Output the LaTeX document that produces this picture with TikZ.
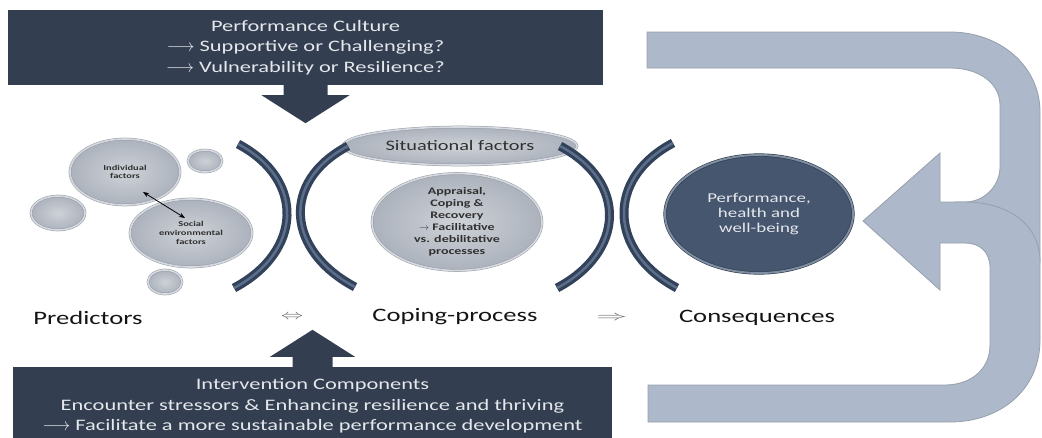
\documentclass[tikz,border=0pt]{standalone}
\usepackage{fontspec}
\setmainfont{Carlito}[FakeStretch=1.4]
\usetikzlibrary{shapes.geometric, arrows.meta}

\definecolor{boxnavy}{RGB}{51,63,80}
\definecolor{boxtext}{RGB}{228,231,236}
\definecolor{loopblue}{RGB}{173,185,202}
\definecolor{loopedge}{RGB}{150,159,172}
\definecolor{arcnavy}{RGB}{50,66,90}
\definecolor{arcmid}{RGB}{92,110,137}
\definecolor{bubblegray}{RGB}{172,178,188}
\definecolor{bubblelight}{RGB}{206,210,216}
\definecolor{bubbleedge}{RGB}{150,156,166}
\definecolor{bubblerim}{RGB}{214,218,224}
\definecolor{bubbletext}{RGB}{48,48,48}
\definecolor{perfnavy}{RGB}{70,86,110}
\definecolor{perfrim}{RGB}{128,142,162}
\definecolor{perfedge}{RGB}{45,58,78}
\definecolor{labeltext}{RGB}{20,20,20}

\begin{document}
\begin{tikzpicture}[x=1pt, y=-1pt,
  darkbox/.style={fill=boxnavy, text=boxtext, align=center, inner sep=0pt,
    font=\fontsize{16}{20.5}\selectfont},
  loopband/.style={fill=loopblue, draw=loopedge, line width=0.8pt},
  bubble/.style={ellipse, draw=bubbleedge, line width=0.5pt, double=bubblerim,
    double distance=1.6pt, inner color=bubblelight, outer color=bubblegray,
    inner sep=0pt, text=bubbletext, align=center,
    font=\bfseries\fontsize{7.5}{8.7}\selectfont},
  bracket/.style={draw=arcmid, line width=2.5pt,
    preaction={draw=arcnavy, line width=9pt}},
  label/.style={text=labeltext, inner sep=1pt, font=\fontsize{19}{22}\selectfont},
  link/.style={text=labeltext!65, inner sep=0pt, font=\fontsize{19}{22}\selectfont}]
\useasboundingbox (0,0) rectangle (1042,437);

% feedback loop on the right
\draw[loopband] (647,32) -- (950,32) .. controls (1000,32) and (1040,66) .. (1040,112)
  -- (1040,262) -- (1000,232) -- (955,232) -- (955,202) -- (965,202)
  .. controls (984,202) and (1000,186) .. (1000,167) -- (1000,105)
  .. controls (1000,84) and (980,68) .. (950,68) -- (647,68) -- cycle;
\draw[loopband] (648,385) -- (945,385) .. controls (970,385) and (990,370) .. (990,345)
  -- (990,268) .. controls (990,252) and (980,243) .. (965,243) -- (940,243)
  -- (940,290) -- (863,221) -- (940,153) -- (940,202) -- (965,202)
  .. controls (1005,202) and (1040,222) .. (1040,262) -- (1040,340)
  .. controls (1040,390) and (1000,422) .. (950,422) -- (648,422) -- cycle;

% performance culture on top
\node[darkbox, minimum width=595pt, minimum height=75pt] (culture) at (305.5,47.5)
  {Performance Culture\\
   $\longrightarrow$ Supportive or Challenging?\\
   $\longrightarrow$ Vulnerability or Resilience?};
\begin{scope}[shift={(culture.south)}]
\fill[boxnavy] (-22,0) -- (-22,10) -- (-44,10) -- (0,38) -- (44,10) -- (22,10) -- (22,0) -- cycle;
\end{scope}

% intervention at the bottom
\node[darkbox, minimum width=599pt, minimum height=78pt] (intervention) at (312.5,406)
  {Intervention Components\\
   Encounter stressors \& Enhancing resilience and thriving\\
   $\longrightarrow$ Facilitate a more sustainable performance development};
\begin{scope}[shift={(intervention.north)}]
\fill[boxnavy] (-20,0) -- (-20,-10) -- (-42.5,-10) -- (0,-37) -- (42.5,-10) -- (20,-10) -- (20,0) -- cycle;
\end{scope}

% predictors
\node[bubble, minimum width=34pt, minimum height=22pt] (dotA) at (205,161) {};
\node[bubble, minimum width=54pt, minimum height=34pt] (dotB) at (58,213) {};
\node[bubble, minimum width=34pt, minimum height=24pt] (dotC) at (165,282) {};
\node[bubble, minimum width=110pt, minimum height=66pt] (indiv) at (125,172) {Individual\\factors};
\node[bubble, minimum width=122pt, minimum height=68pt] (social) at (191,233) {Social\\environmental\\factors};
\draw[{Stealth[length=6pt]}-{Stealth[length=6pt]}, line width=0.8pt]
  ([xshift=18pt,yshift=-20pt]indiv.center) -- ([xshift=-6pt,yshift=15pt]social.center);

% coping process
\node[bubble, minimum width=234pt, minimum height=38pt, font=\fontsize{14.5}{16}\selectfont]
  (situation) at (460,146) {Situational factors};
\node[bubble, minimum width=170pt, minimum height=90pt, font=\bfseries\fontsize{10}{12}\selectfont]
  (appraisal) at (457,222) {Appraisal,\\Coping \&\\Recovery\\$\rightarrow$ Facilitative\\vs. debilitative\\processes};

% consequences
\node[ellipse, fill=perfnavy, draw=perfedge, line width=0.6pt, double=perfrim, double distance=2pt,
  minimum width=188pt, minimum height=118pt, inner sep=0pt, text=boxtext, align=center,
  font=\fontsize{13.5}{14.7}\selectfont] (outcome) at (759,214) {Performance,\\health and\\well-being};

% brackets
\draw[bracket] (238,144) .. controls (306,180) and (302,252) .. (234,288);
\draw[bracket] (348,146) .. controls (280,182) and (287,251) .. (355,287);
\draw[bracket] (560,146) .. controls (628,182) and (625,252) .. (557,288);
\draw[bracket] (673,143) .. controls (605,179) and (609,252) .. (677,288);

% stage labels
\node[label] (predictors) at (88,318) {Predictors};
\node[label] (coping) at (455,317) {Coping-process};
\node[label] (consequences) at (757,318) {Consequences};
\node[link] (linkA) at (292,317) {\scalebox{1.3}[0.8]{$\Leftrightarrow$}};
\node[link] (linkB) at (612,318) {\scalebox{1.8}[0.8]{$\Rightarrow$}};
\end{tikzpicture}
\end{document}
